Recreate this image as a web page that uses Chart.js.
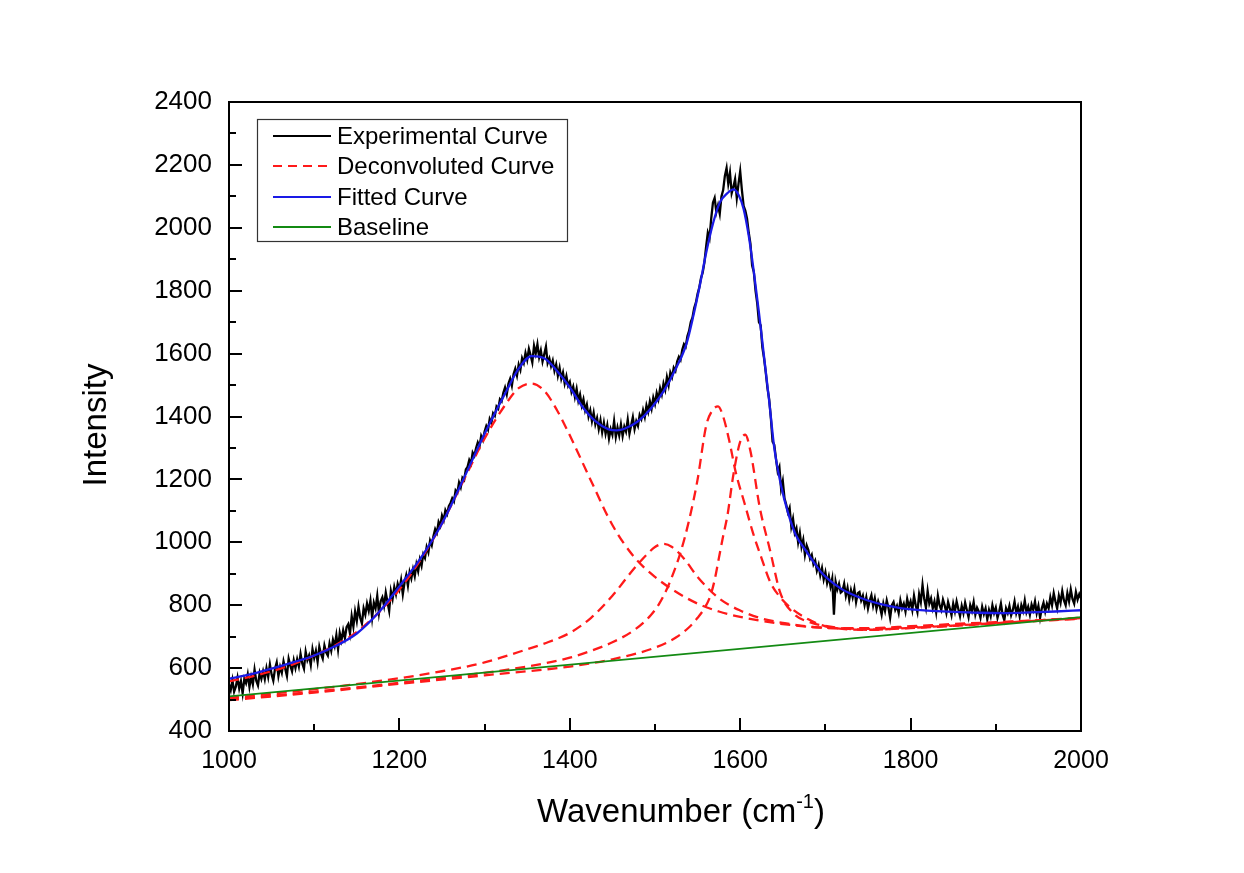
<!DOCTYPE html>
<html>
<head>
<meta charset="utf-8">
<script src="https://cdn.jsdelivr.net/npm/chart.js@4.4.1/dist/chart.umd.min.js"></script>
<style>
  html, body { margin: 0; padding: 0; background: #ffffff; }
  #wrap { position: relative; width: 1244px; height: 873px; }
</style>
</head>
<body>
<div id="wrap"><canvas id="c" width="1244" height="873"></canvas></div>
<script>
// ---------------- DATA ----------------
const xTicks = [1000, 1200, 1400, 1600, 1800, 2000];
const yTicks = [400, 600, 800, 1000, 1200, 1400, 1600, 1800, 2000, 2200, 2400];

const legendLabels = ["Experimental Curve", "Deconvoluted Curve", "Fitted Curve", "Baseline"];

// Experimental curve: sampled every 2 cm-1 starting at 1000
const expStart = 1000;
const expStep = 2;
const expY = [
  548, 530, 562, 525, 541, 570, 535, 558, 520, 566,
  552, 580, 540, 572, 548, 595, 560, 545, 585, 566,
  590, 565, 600, 572, 612, 580, 560, 598, 618, 575,
  604, 585, 622, 598, 575, 630, 608, 590, 625, 600,
  628, 605, 645, 615, 598, 652, 625, 640, 610, 660,
  632, 655, 620, 668, 645, 630, 672, 650, 640, 678,
  655, 690, 670, 705, 660, 712, 688, 720, 695, 730,
  740, 710, 765, 732, 780, 750, 795, 760, 742, 790,
  770, 805, 782, 815, 760, 808, 790, 830, 775, 812,
  825, 798, 840, 810, 782, 845, 820, 858, 835, 868,
  850, 880, 835, 872, 895, 862, 905, 885, 915, 892,
  930, 908, 945, 925, 962, 950, 985, 968, 1005, 990,
  1020, 1042, 1030, 1065, 1052, 1085, 1070, 1102, 1090, 1115,
  1125, 1140, 1130, 1165, 1158, 1190, 1175, 1205, 1198, 1232,
  1240, 1262, 1250, 1285, 1275, 1300, 1318, 1305, 1338, 1325,
  1352, 1370, 1358, 1392, 1380, 1410, 1402, 1432, 1425, 1455,
  1448, 1475, 1492, 1470, 1505, 1520, 1498, 1535, 1552, 1530,
  1565, 1548, 1585, 1570, 1602, 1580, 1615, 1595, 1572, 1625,
  1600, 1630, 1588, 1610, 1575, 1598, 1622, 1570, 1585, 1560,
  1578, 1545, 1565, 1530, 1555, 1520, 1540, 1505, 1528, 1498,
  1510, 1478, 1495, 1462, 1488, 1450, 1470, 1435, 1455, 1420,
  1438, 1400, 1420, 1385, 1412, 1375, 1395, 1360, 1388, 1350,
  1380, 1345, 1372, 1330, 1360, 1342, 1385, 1335, 1365, 1340,
  1375, 1338, 1368, 1352, 1390, 1345, 1372, 1398, 1360, 1385,
  1370, 1405, 1392, 1420, 1398, 1435, 1415, 1448, 1425, 1460,
  1440, 1475, 1455, 1490, 1470, 1505, 1485, 1525, 1500, 1540,
  1525, 1555, 1545, 1575, 1590, 1580, 1612, 1630, 1622, 1655,
  1672, 1700, 1715, 1745, 1762, 1790, 1810, 1840, 1858, 1890,
  1940, 1985, 1968, 2030, 2080, 2095, 2050, 2072, 2045, 2100,
  2120, 2165, 2190, 2140, 2175, 2110, 2130, 2155, 2095, 2140,
  2180, 2120, 2070, 2055, 2030, 1985, 1950, 1880, 1860, 1800,
  1760, 1700, 1690, 1620, 1585, 1540, 1490, 1455, 1395, 1320,
  1310, 1265, 1225, 1240, 1170, 1195, 1140, 1120, 1095, 1110,
  1050, 1075, 1030, 1045, 1000, 1030, 985, 1008, 960, 990,
  975, 948, 960, 930, 942, 910, 928, 895, 918, 882,
  905, 870, 892, 860, 885, 770, 875, 850, 868, 840,
  845, 868, 830, 855, 818, 848, 825, 852, 810, 838,
  842, 815, 830, 800, 825, 790, 815, 832, 798, 822,
  788, 812, 795, 770, 805, 782, 815, 792, 760, 800,
  810, 785, 798, 775, 815, 790, 805, 780, 820, 795,
  812, 785, 830, 800, 778, 835, 810, 865, 820, 792,
  845, 805, 822, 790, 812, 778, 830, 800, 785, 818,
  800, 775, 810, 790, 768, 805, 780, 812, 788, 765,
  798, 775, 808, 785, 762, 800, 782, 810, 770, 792,
  780, 760, 795, 772, 790, 755, 785, 765, 800, 775,
  792, 760, 780, 805, 770, 752, 790, 775, 798, 768,
  785, 812, 775, 795, 765, 800, 782, 815, 778, 795,
  770, 802, 785, 812, 775, 798, 760, 790, 808, 780,
  805, 790, 825, 800, 838, 812, 790, 830, 808, 845,
  815, 800, 838, 812, 850, 820, 805, 842, 818, 835,
  822
];

// Fitted curve
const fitX = [1000,1025,1050,1075,1100,1125,1150,1175,1200,1225,1250,1275,1300,1325,1340,1355,1370,1385,1400,1415,1430,1445,1455,1465,1480,1495,1510,1525,1537,1545,1553,1560,1568,1576,1585,1592,1598,1604,1610,1616,1622,1628,1634,1640,1648,1656,1665,1678,1695,1717,1735,1750,1770,1790,1820,1850,1880,1910,1940,1970,2000];
const fitY = [566,580,598,618,640,670,710,775,860,950,1060,1200,1345,1478,1552,1592,1585,1545,1493,1430,1385,1360,1356,1362,1385,1425,1480,1555,1632,1720,1822,1920,2013,2080,2110,2122,2105,2060,1975,1860,1730,1590,1450,1300,1180,1095,1025,970,905,855,830,815,800,790,783,779,776,775,777,780,784];

// Deconvoluted peaks
const d1X = [1000,1025,1050,1075,1100,1125,1150,1175,1200,1225,1250,1275,1300,1325,1340,1355,1370,1385,1400,1425,1450,1475,1500,1525,1550,1575,1600,1650,1700,1750,1800,1850,1900,1950,2000];
const d1Y = [558,572,590,612,640,673,715,775,850,945,1060,1195,1330,1440,1490,1505,1482,1420,1340,1195,1055,955,890,842,805,780,763,740,728,725,730,737,744,752,760];

const d2X = [1000,1100,1200,1250,1300,1350,1375,1400,1425,1450,1475,1490,1500,1510,1520,1535,1550,1575,1600,1625,1650,1700,1750,1800,1850,1900,1950,2000];
const d2Y = [505,533,568,590,618,660,683,712,760,830,915,960,985,995,985,945,890,822,783,758,744,728,727,733,740,746,752,758];

const d3X = [1000,1100,1200,1300,1350,1400,1425,1450,1475,1495,1505,1515,1522,1530,1540,1550,1560,1567,1574,1580,1587,1595,1605,1615,1625,1635,1647,1660,1680,1700,1750,1800,1850,1900,1950,2000];
const d3Y = [500,525,553,585,605,633,655,682,720,768,805,858,905,968,1070,1200,1370,1418,1432,1400,1325,1220,1125,1030,950,875,825,790,755,733,722,728,735,743,751,759];

const d4X = [1000,1100,1200,1300,1400,1450,1500,1525,1540,1550,1558,1565,1570,1575,1580,1585,1592,1600,1606,1612,1623,1635,1647,1662,1685,1700,1750,1800,1850,1900,1950,2000];
const d4Y = [498,522,550,577,605,628,665,698,730,760,790,830,880,950,1020,1085,1215,1320,1342,1290,1110,975,840,775,743,734,722,727,734,742,750,757];

// Baseline
const baseX = [1000, 2000];
const baseY = [510, 762];

// ---------------- BUILD ----------------
const FONT = "'Liberation Sans', Arial, Helvetica, sans-serif";
const pts = (xs, ys) => xs.map((x, i) => ({ x: x, y: ys[i] }));
const expPts = expY.map((y, i) => ({ x: expStart + expStep * i, y: y }));

const COL_EXP = '#000000';
const COL_DEC = '#ff1a1a';
const COL_FIT = '#1a1ae6';
const COL_BASE = '#138a13';

const decStyle = {
  borderColor: COL_DEC, borderWidth: 2.3, borderDash: [10, 6],
  pointRadius: 0, fill: false, cubicInterpolationMode: 'monotone'
};

const datasets = [
  { label: 'Baseline', data: pts(baseX, baseY), borderColor: COL_BASE, borderWidth: 1.8, pointRadius: 0, fill: false, order: 0 },
  { label: 'Fitted Curve', data: pts(fitX, fitY), borderColor: COL_FIT, borderWidth: 2.3, pointRadius: 0, fill: false, cubicInterpolationMode: 'monotone', order: 1 },
  Object.assign({ label: 'Deconvoluted Curve', data: pts(d1X, d1Y), order: 2 }, decStyle),
  Object.assign({ label: 'Deconvoluted Curve 2', data: pts(d2X, d2Y), order: 3 }, decStyle),
  Object.assign({ label: 'Deconvoluted Curve 3', data: pts(d3X, d3Y), order: 4 }, decStyle),
  Object.assign({ label: 'Deconvoluted Curve 4', data: pts(d4X, d4Y), order: 5 }, decStyle),
  { label: 'Experimental Curve', data: expPts, borderColor: COL_EXP, borderWidth: 2.3, pointRadius: 0, fill: false, tension: 0, order: 6 }
];

const legendStyles = [
  { color: COL_EXP, dash: [], width: 2 },
  { color: COL_DEC, dash: [9, 6], width: 2 },
  { color: COL_FIT, dash: [], width: 2.2 },
  { color: COL_BASE, dash: [], width: 2 }
];

const framePlugin = {
  id: 'frame',
  afterDatasetsDraw(chart) {
    const ctx = chart.ctx;
    const a = chart.chartArea;
    const xs = chart.scales.x, ys = chart.scales.y;
    ctx.save();
    // ticks (inward, left and bottom)
    ctx.strokeStyle = '#000';
    ctx.lineWidth = 2;
    ctx.setLineDash([]);
    for (let v = 400; v <= 2400; v += 100) {
      const y = Math.round(ys.getPixelForValue(v));
      const len = (v % 200 === 0) ? 13 : 7;
      ctx.beginPath(); ctx.moveTo(a.left, y); ctx.lineTo(a.left + len, y); ctx.stroke();
    }
    for (let v = 1000; v <= 2000; v += 100) {
      const x = Math.round(xs.getPixelForValue(v));
      const len = (v % 200 === 0) ? 13 : 7;
      ctx.beginPath(); ctx.moveTo(x, a.bottom); ctx.lineTo(x, a.bottom - len); ctx.stroke();
    }
    // frame
    ctx.lineWidth = 2;
    ctx.strokeRect(a.left, a.top, a.right - a.left, a.bottom - a.top);

    // legend
    const lx = a.left + 28, ly = a.top + 17, lw = 310, lh = 122;
    ctx.fillStyle = '#ffffff';
    ctx.fillRect(lx, ly, lw, lh);
    ctx.lineWidth = 1.2;
    ctx.strokeStyle = '#333';
    ctx.strokeRect(lx + 0.5, ly + 0.5, lw, lh);
    const rows = [136, 166, 197, 227];
    ctx.font = '24px ' + FONT;
    ctx.textBaseline = 'middle';
    ctx.textAlign = 'left';
    legendLabels.forEach((lab, i) => {
      const st = legendStyles[i];
      ctx.strokeStyle = st.color;
      ctx.lineWidth = st.width;
      ctx.setLineDash(st.dash);
      ctx.beginPath(); ctx.moveTo(273, rows[i]); ctx.lineTo(331, rows[i]); ctx.stroke();
      ctx.setLineDash([]);
      ctx.fillStyle = '#000';
      ctx.fillText(lab, 337, rows[i] + 1);
    });

    // axis titles
    ctx.fillStyle = '#000';
    ctx.textBaseline = 'alphabetic';
    const big = '33px ' + FONT, small = '20px ' + FONT;
    const t1 = 'Wavenumber (cm', t2 = '-1', t3 = ')';
    ctx.font = big; const w1 = ctx.measureText(t1).width; const w3 = ctx.measureText(t3).width;
    ctx.font = small; const w2 = ctx.measureText(t2).width;
    const total = w1 + w2 + w3;
    let sx = (a.left + a.right) / 2 - total / 2 + 26;
    const by = 822;
    ctx.textAlign = 'left';
    ctx.font = big; ctx.fillText(t1, sx, by);
    ctx.font = small; ctx.fillText(t2, sx + w1, by - 14);
    ctx.font = big; ctx.fillText(t3, sx + w1 + w2, by);
    // y title
    ctx.save();
    ctx.translate(106, 425);
    ctx.rotate(-Math.PI / 2);
    ctx.textAlign = 'center';
    ctx.font = big;
    ctx.fillText('Intensity', 0, 0);
    ctx.restore();
    ctx.restore();
  }
};

new Chart(document.getElementById('c'), {
  type: 'line',
  data: { datasets: datasets },
  options: {
    responsive: false,
    animation: false,
    events: [],
    layout: { padding: { top: 102, right: 163, left: 0, bottom: 0 } },
    plugins: { legend: { display: false }, tooltip: { enabled: false }, title: { display: false } },
    scales: {
      x: {
        type: 'linear', min: 1000, max: 2000,
        afterFit: (s) => { s.height = 142; },
        afterBuildTicks: (s) => { s.ticks = xTicks.map(v => ({ value: v })); },
        grid: { display: false, drawTicks: false },
        border: { display: false },
        ticks: { color: '#000', padding: 15, font: { size: 25, family: FONT }, maxRotation: 0, autoSkip: false, callback: (v) => String(v) }
      },
      y: {
        type: 'linear', min: 400, max: 2400,
        afterFit: (s) => { s.width = 229; },
        afterBuildTicks: (s) => { s.ticks = yTicks.map(v => ({ value: v })); },
        grid: { display: false, drawTicks: false },
        border: { display: false },
        ticks: { color: '#000', padding: 17, font: { size: 26, family: FONT }, autoSkip: false, callback: (v) => String(v) }
      }
    }
  },
  plugins: [framePlugin]
});
</script>
</body>
</html>
